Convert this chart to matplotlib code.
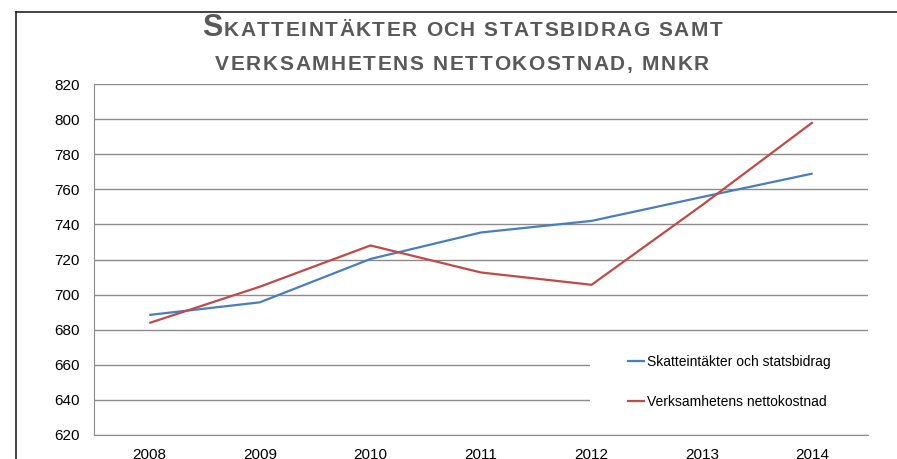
import matplotlib
matplotlib.use("Agg")
import matplotlib.pyplot as plt
from matplotlib.patches import Rectangle
from matplotlib.lines import Line2D
from matplotlib.font_manager import FontProperties, findfont, get_font

years = ["2008", "2009", "2010", "2011", "2012", "2013", "2014"]
skatt = [688.4, 695.6, 720.3, 735.4, 742.0, 755.6, 769.0]
netto = [683.8, 704.5, 728.0, 712.6, 705.6, 751.0, 798.2]
labels = ["Skatteintäkter och statsbidrag", "Verksamhetens nettokostnad"]
yticks = list(range(620, 821, 20))

plt.rcParams['font.family'] = ['Liberation Sans', 'DejaVu Sans']

W, H = 897, 459
fig = plt.figure(figsize=(W / 100, H / 100), dpi=100)
ax = fig.add_axes([94 / W, 1 - 435 / H, (868 - 94) / W, (435 - 84) / H])

x = list(range(len(years)))
ax.plot(x, skatt, color="#4A7EBB", lw=1.6, label=labels[0], zorder=4, solid_capstyle='butt')
ax.plot(x, netto, color="#BE4B48", lw=1.6, label=labels[1], zorder=4, solid_capstyle='butt')

ax.set_xlim(-0.5, len(years) - 0.5)
ax.set_ylim(620, 820)
ax.set_yticks(yticks)
ax.set_xticks(x)
ax.set_xticklabels(years)
ax.yaxis.grid(True, color="#8C8C8C", lw=1.0)
ax.set_axisbelow(True)
for s in ["top", "right"]:
    ax.spines[s].set_visible(False)
ax.spines["left"].set_color("#8C8C8C")
ax.spines["bottom"].set_color("#8C8C8C")
ax.tick_params(axis='both', length=0, labelsize=11, colors="#000000")
ax.tick_params(axis='y', pad=10.5)
ax.tick_params(axis='x', pad=9.5)

# white legend background hiding part of grid
ax.add_patch(Rectangle((0.641, 625), 0.4, 50, transform=ax.get_yaxis_transform(),
                       facecolor="white", edgecolor="none", zorder=2, clip_on=False))

leg = ax.legend(loc="center left", bbox_to_anchor=(0.6886, 0.151), frameon=False,
                fontsize=10, handlelength=1.3, handletextpad=0.15, labelspacing=1.9,
                borderpad=0, borderaxespad=0)

# outer frame (top and left edges only visible)
fig.add_artist(Line2D([16 / W, 16 / W], [0, 1 - 12 / H], transform=fig.transFigure,
                      color="#222222", lw=1.2))
fig.add_artist(Line2D([16 / W, 1.0], [1 - 12 / H, 1 - 12 / H], transform=fig.transFigure,
                      color="#222222", lw=1.2))

# small-caps title with letter spacing
tcol = "#595959"
fp = FontProperties(family='Liberation Sans', weight='bold')
font = get_font(findfont(fp))

def advance(ch, size):
    font.set_size(size, 100)
    g = font.load_char(ord(ch))
    return g.linearHoriAdvance / 65536.0

def smallcaps_line(parts, baseline_px, center_px, spacing):
    chars = []
    for s, size in parts:
        for ch in s:
            chars.append((ch, size))
    advs = [advance(ch, sz) for ch, sz in chars]
    total = sum(advs) + spacing * (len(chars) - 1)
    xpos = center_px - total / 2
    for (ch, sz), a in zip(chars, advs):
        if ch != " ":
            fig.text(xpos / W, 1 - baseline_px / H, ch, fontsize=sz, fontweight='bold',
                     color=tcol, va='baseline', ha='left')
        xpos += a + spacing

smallcaps_line([("S", 22), ("KATTEINTÄKTER OCH STATSBIDRAG SAMT", 15)], 36, 462, 1.5)
smallcaps_line([("VERKSAMHETENS NETTOKOSTNAD, MNKR", 15)], 70, 462, 1.65)

fig.savefig("out.png", dpi=100)
